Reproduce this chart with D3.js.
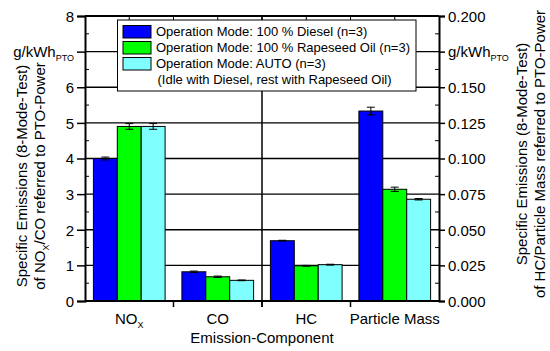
<!DOCTYPE html>
<html>
<head>
<meta charset="utf-8">
<script src="https://cdn.jsdelivr.net/npm/d3@7"></script>
<style>
  body { margin: 0; background: #fff; }
  svg text { font-family: "Liberation Sans", Arial, sans-serif; fill: #000; }
</style>
</head>
<body>
<svg id="chart" width="550" height="351"></svg>
<script>
// data
const categories = ['NOx', 'CO', 'HC', 'Particle Mass'];
const seriesNames = [
  'Operation Mode: 100 % Diesel (n=3)',
  'Operation Mode: 100 % Rapeseed Oil (n=3)',
  'Operation Mode: AUTO (n=3)'
];
// NOx, CO on left axis; HC, PM on right axis
const dieselValues   = [4.00, 0.82, 0.0423, 0.1333];
const rapeseedValues = [4.90, 0.68, 0.0247, 0.0784];
const autoValues     = [4.90, 0.58, 0.0255, 0.0714];
const dieselErr   = [0.04, 0.02, 0.0003, 0.0027];
const rapeseedErr = [0.08, 0.02, 0.0003, 0.0015];
const autoErr     = [0.08, 0.01, 0.0003, 0.0005];
const leftTicks = [0, 1, 2, 3, 4, 5, 6, 7, 8];
const rightTicks = [0, 0.025, 0.05, 0.075, 0.1, 0.125, 0.15, 0.175, 0.2];
const colors = ['#0000ff', '#00ff00', '#80ffff'];

const svg = d3.select('#chart');
const x0 = 85, x1 = 439, yTop = 16, yBot = 301;

let xScale = d3.scaleBand().domain(categories).range([x0, x1]);
let xSub = d3.scaleBand().domain([0, 1, 2]).range([8.4, xScale.bandwidth() - 8.4]);
let yLeft = d3.scaleLinear().domain([0, 8]).range([yBot, yTop]);
let yRight = d3.scaleLinear().domain([0, 0.2]).range([yBot, yTop]);

// gridlines
svg.append('g').selectAll('line').data(leftTicks.slice(1, -1)).join('line')
  .attr('x1', x0).attr('x2', x1)
  .attr('y1', d => yLeft(d)).attr('y2', d => yLeft(d))
  .attr('stroke', '#000').attr('stroke-width', 1.3);

// center divider
svg.append('line')
  .attr('x1', xScale('HC')).attr('x2', xScale('HC'))
  .attr('y1', yTop).attr('y2', yBot + 6)
  .attr('stroke', '#000').attr('stroke-width', 1.5);

// bars
const allValues = [dieselValues, rapeseedValues, autoValues];
const allErr = [dieselErr, rapeseedErr, autoErr];
const rows = [];
categories.forEach((c, i) => {
  allValues.forEach((vals, s) => {
    rows.push({cat: c, s: s, v: vals[i], e: allErr[s][i], right: i >= 2});
  });
});

const barG = svg.append('g');
barG.selectAll('rect').data(rows).join('rect')
  .attr('x', d => xScale(d.cat) + xSub(d.s))
  .attr('width', xSub.bandwidth())
  .attr('y', d => (d.right ? yRight : yLeft)(d.v))
  .attr('height', d => yBot - (d.right ? yRight : yLeft)(d.v))
  .attr('fill', d => colors[d.s])
  .attr('stroke', '#000').attr('stroke-width', 1);

// error bars
const errG = svg.append('g').attr('stroke', '#000').attr('stroke-width', 1);
rows.forEach(d => {
  const sc = d.right ? yRight : yLeft;
  const cx = xScale(d.cat) + xSub(d.s) + xSub.bandwidth() / 2;
  const ya = sc(d.v + d.e), yb = sc(d.v - d.e);
  errG.append('line').attr('x1', cx).attr('x2', cx).attr('y1', ya).attr('y2', yb);
  errG.append('line').attr('x1', cx - 4).attr('x2', cx + 4).attr('y1', ya).attr('y2', ya);
  errG.append('line').attr('x1', cx - 4).attr('x2', cx + 4).attr('y1', yb).attr('y2', yb);
});

// frame
svg.append('line').attr('x1', x0).attr('x2', x1).attr('y1', yTop).attr('y2', yTop)
  .attr('stroke', '#000').attr('stroke-width', 2);
svg.append('line').attr('x1', x0).attr('x2', x1).attr('y1', yBot).attr('y2', yBot)
  .attr('stroke', '#000').attr('stroke-width', 2);

// left axis
const leftAxis = svg.append('g').attr('transform', `translate(${x0},0)`)
  .call(d3.axisLeft(yLeft).tickValues(leftTicks).tickSize(8)
    .tickFormat(d => d === 7 ? '' : d3.format('d')(d)));
leftAxis.attr('font-family', null).attr('font-size', null);
leftAxis.select('.domain').attr('stroke-width', 2);
leftAxis.selectAll('.tick line').attr('stroke-width', 1.5);
leftAxis.selectAll('.tick text').attr('font-size', 15).attr('x', -11).attr('dy', '0.36em');
// minor inner ticks
svg.append('g').selectAll('line').data(d3.range(0.5, 8, 1)).join('line')
  .attr('x1', x0).attr('x2', x0 + 4)
  .attr('y1', d => yLeft(d)).attr('y2', d => yLeft(d)).attr('stroke', '#000');

// right axis
const rightAxis = svg.append('g').attr('transform', `translate(${x1},0)`)
  .call(d3.axisRight(yRight).tickValues(rightTicks).tickSize(6)
    .tickFormat(d => Math.abs(d - 0.175) < 1e-9 ? '' : d3.format('.3f')(d)));
rightAxis.attr('font-family', null).attr('font-size', null);
rightAxis.select('.domain').attr('stroke-width', 2);
rightAxis.selectAll('.tick line').attr('stroke-width', 1.5);
rightAxis.selectAll('.tick text').attr('font-size', 15).attr('x', 9).attr('dy', '0.36em');
svg.append('g').selectAll('line').data(rightTicks.slice(0, -1).map(d => d + 0.0125)).join('line')
  .attr('x1', x1 - 4).attr('x2', x1)
  .attr('y1', d => yRight(d)).attr('y2', d => yRight(d)).attr('stroke', '#000');

// bottom ticks at category boundaries, top ticks at boundaries and centers
const bounds = categories.slice(1).map(c => xScale(c));
svg.append('g').selectAll('line').data(bounds).join('line')
  .attr('x1', d => d).attr('x2', d => d).attr('y1', yBot).attr('y2', yBot + 6)
  .attr('stroke', '#000').attr('stroke-width', 1.5);
const topTicks = bounds.concat(categories.map(c => xScale(c) + xScale.bandwidth() / 2));
svg.append('g').selectAll('line').data(topTicks).join('line')
  .attr('x1', d => d).attr('x2', d => d).attr('y1', yTop).attr('y2', yTop + 4)
  .attr('stroke', '#000');

// unit labels
function unitLabel(xPos, yPos, anchor) {
  const t = svg.append('text').attr('x', xPos).attr('y', yPos).attr('font-size', 15)
    .attr('text-anchor', anchor);
  t.append('tspan').text('g/kWh');
  t.append('tspan').text('PTO').attr('font-size', 9).attr('dy', 4);
}
unitLabel(74, yLeft(7) + 5, 'end');
unitLabel(448, yRight(0.175) + 5, 'start');

// category labels
const catG = svg.append('g').attr('font-size', 15).attr('text-anchor', 'middle');
categories.forEach(c => {
  const t = catG.append('text').attr('x', xScale(c) + xScale.bandwidth() / 2).attr('y', 324);
  if (c === 'NOx') {
    t.append('tspan').text('NO');
    t.append('tspan').text('X').attr('font-size', 9).attr('dy', 4);
  } else {
    t.text(c);
  }
});
svg.append('text').attr('x', (x0 + x1) / 2).attr('y', 343).attr('font-size', 15)
  .attr('text-anchor', 'middle').text('Emission-Component');

// y titles
function yTitle(xPos, yMid, line1, parts) {
  const g = svg.append('g').attr('transform', `translate(${xPos},${yMid}) rotate(-90)`);
  g.append('text').attr('text-anchor', 'middle').attr('font-size', 15).attr('y', 0).text(line1);
  const t = g.append('text').attr('text-anchor', 'middle').attr('font-size', 15).attr('y', 17.5);
  parts.forEach(p => {
    const s = t.append('tspan').text(p[0]);
    if (p[1]) s.attr('font-size', 9).attr('dy', 4);
    else if (p[2]) s.attr('dy', -4);
  });
}
yTitle(27, 176, 'Specific Emissions (8-Mode-Test)',
  [['of NO'], ['X', true], ['/CO referred to PTO-Power', false, true]]);
yTitle(527, 154, 'Specific Emissions (8-Mode-Test)',
  [['of HC/Particle Mass referred to PTO-Power']]);

// legend
const lg = svg.append('g');
lg.append('rect').attr('x', 117.5).attr('y', 20).attr('width', 298.5).attr('height', 71)
  .attr('fill', '#fff').attr('stroke', '#000').attr('stroke-width', 1);
seriesNames.forEach((n, i) => {
  lg.append('rect').attr('x', 123).attr('y', 25.5 + i * 16).attr('width', 28).attr('height', 12.5)
    .attr('fill', colors[i]).attr('stroke', '#000').attr('stroke-width', 1);
  lg.append('text').attr('x', 156).attr('y', 36 + i * 16).attr('font-size', 13).text(n);
});
lg.append('text').attr('x', 157.5).attr('y', 84).attr('font-size', 13)
  .text('(Idle with Diesel, rest with Rapeseed Oil)');
</script>
</body>
</html>
